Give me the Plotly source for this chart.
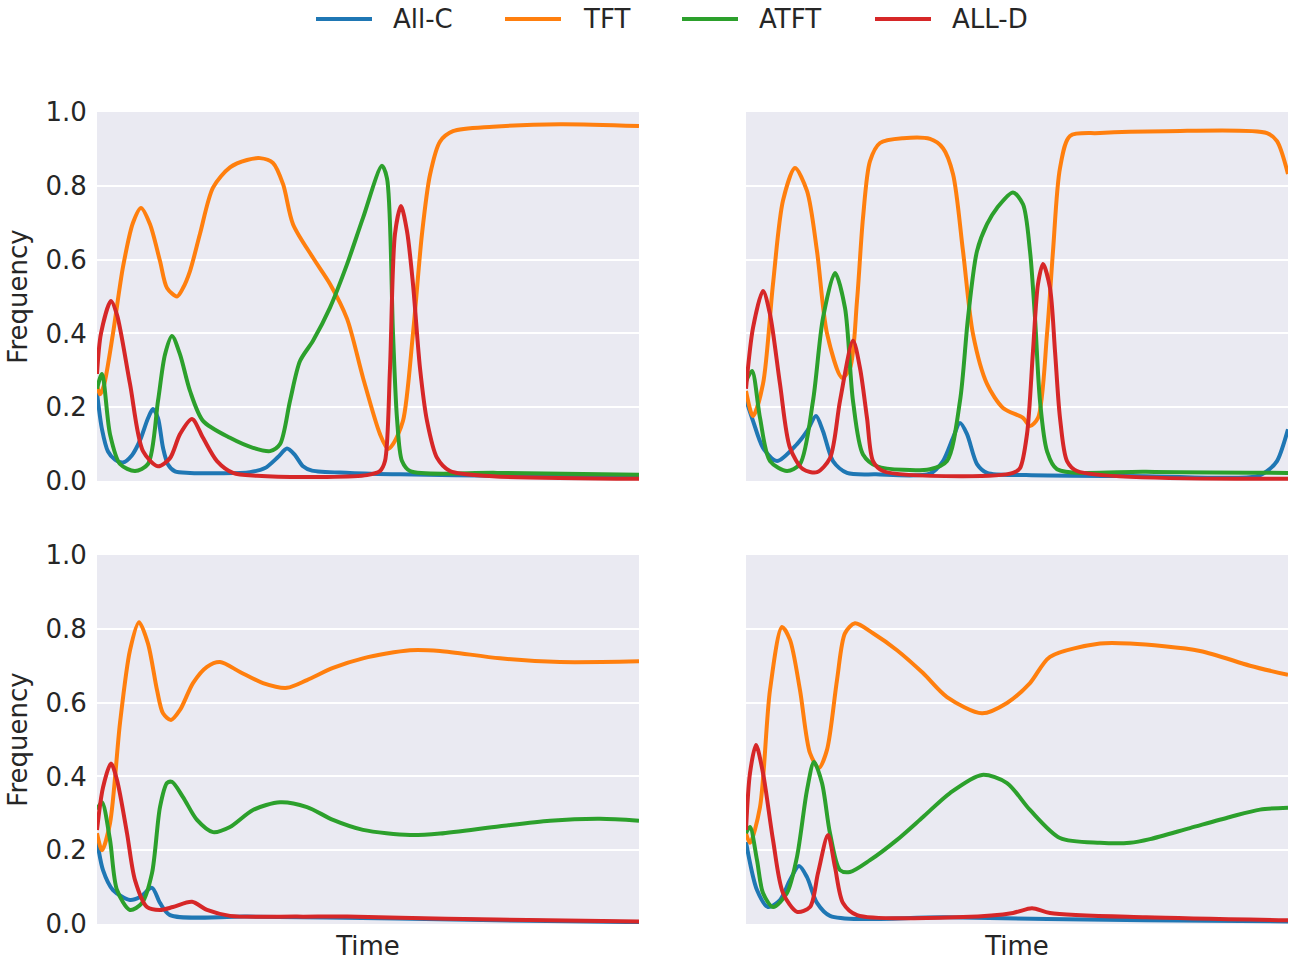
import plotly.graph_objects as go

# ---------------- data (time index, frequency) ----------------
SERIES = ["All-C", "TFT", "ATFT", "ALL-D"]
COLORS = ["#1f77b4", "#ff7f0e", "#2ca02c", "#d62728"]
Y_TICKS = [0.0, 0.2, 0.4, 0.6, 0.8, 1.0]

# Panel 1 (top-left)
P1_ALLC_T = [0, 5, 11, 18, 26, 35, 43, 51, 56, 61, 66, 71, 78, 93, 123, 153, 168, 181, 190, 198, 206, 215, 253, 303, 403, 542]
P1_ALLC_V = [0.24, 0.14, 0.08, 0.058, 0.05, 0.07, 0.11, 0.17, 0.195, 0.17, 0.09, 0.045, 0.026, 0.022, 0.021, 0.024, 0.035, 0.065, 0.088, 0.07, 0.04, 0.028, 0.022, 0.018, 0.014, 0.012]
P1_TFT_T = [0, 3, 7, 16, 26, 36, 44, 53, 63, 70, 80, 86, 93, 103, 116, 133, 150, 163, 176, 186, 196, 216, 233, 250, 266, 283, 291, 296, 306, 316, 325, 333, 343, 356, 396, 463, 542]
P1_TFT_V = [0.26, 0.235, 0.26, 0.40, 0.58, 0.70, 0.74, 0.696, 0.596, 0.523, 0.50, 0.523, 0.569, 0.67, 0.795, 0.85, 0.87, 0.875, 0.862, 0.805, 0.696, 0.605, 0.534, 0.44, 0.28, 0.127, 0.087, 0.10, 0.163, 0.40, 0.67, 0.83, 0.92, 0.948, 0.96, 0.967, 0.962]
P1_ATFT_T = [0, 5, 13, 23, 38, 51, 61, 68, 75, 83, 93, 106, 133, 156, 173, 183, 193, 203, 216, 233, 250, 266, 285, 290, 296, 300, 305, 313, 400, 542]
P1_ATFT_V = [0.25, 0.29, 0.127, 0.046, 0.027, 0.046, 0.217, 0.343, 0.393, 0.343, 0.244, 0.163, 0.117, 0.09, 0.081, 0.10, 0.217, 0.325, 0.38, 0.47, 0.587, 0.713, 0.854, 0.82, 0.40, 0.17, 0.054, 0.027, 0.022, 0.017]
P1_ALLD_T = [0, 4, 14, 20, 33, 46, 61, 73, 83, 95, 106, 120, 136, 160, 230, 270, 283, 288, 293, 298, 304, 310, 316, 323, 330, 340, 353, 396, 542]
P1_ALLD_V = [0.29, 0.40, 0.488, 0.45, 0.263, 0.081, 0.04, 0.062, 0.127, 0.168, 0.117, 0.054, 0.022, 0.014, 0.011, 0.016, 0.027, 0.054, 0.306, 0.67, 0.745, 0.677, 0.533, 0.306, 0.163, 0.063, 0.027, 0.013, 0.006]

# Panel 2 (top-right)
P2_ALLC_T = [0, 7, 17, 31, 51, 61, 70, 77, 87, 101, 130, 184, 197, 207, 214, 221, 231, 241, 280, 400, 510, 521, 531, 542]
P2_ALLC_V = [0.22, 0.163, 0.09, 0.054, 0.10, 0.135, 0.176, 0.135, 0.054, 0.022, 0.018, 0.02, 0.054, 0.117, 0.157, 0.127, 0.046, 0.022, 0.016, 0.013, 0.012, 0.027, 0.054, 0.14]
P2_TFT_T = [0, 7, 17, 27, 37, 49, 61, 71, 81, 96, 104, 111, 117, 124, 134, 157, 184, 197, 207, 217, 227, 241, 257, 277, 284, 292, 301, 307, 314, 324, 354, 421, 521, 531, 542]
P2_TFT_V = [0.244, 0.176, 0.263, 0.534, 0.76, 0.848, 0.786, 0.623, 0.40, 0.28, 0.306, 0.488, 0.713, 0.867, 0.916, 0.929, 0.927, 0.902, 0.832, 0.623, 0.398, 0.263, 0.198, 0.171, 0.149, 0.171, 0.398, 0.623, 0.848, 0.935, 0.943, 0.948, 0.943, 0.921, 0.832]
P2_ATFT_T = [0, 6, 14, 24, 41, 54, 67, 77, 89, 99, 107, 117, 131, 184, 201, 214, 222, 231, 241, 251, 267, 277, 284, 289, 294, 301, 311, 400, 542]
P2_ATFT_V = [0.27, 0.298, 0.171, 0.054, 0.027, 0.046, 0.217, 0.442, 0.564, 0.469, 0.217, 0.072, 0.04, 0.032, 0.054, 0.217, 0.442, 0.623, 0.696, 0.74, 0.782, 0.75, 0.623, 0.442, 0.217, 0.081, 0.032, 0.025, 0.022]
P2_ALLD_T = [0, 7, 17, 24, 34, 44, 57, 71, 84, 94, 107, 114, 121, 127, 137, 217, 267, 274, 281, 287, 292, 297, 304, 309, 314, 321, 331, 542]
P2_ALLD_V = [0.25, 0.415, 0.515, 0.452, 0.263, 0.09, 0.032, 0.024, 0.062, 0.217, 0.38, 0.306, 0.171, 0.054, 0.027, 0.013, 0.022, 0.035, 0.127, 0.352, 0.534, 0.588, 0.523, 0.352, 0.171, 0.054, 0.027, 0.006]

# Panel 3 (bottom-left)
P3_ALLC_T = [0, 6, 16, 33, 43, 55, 63, 73, 150, 300, 450, 542]
P3_ALLC_V = [0.228, 0.146, 0.092, 0.065, 0.073, 0.098, 0.057, 0.024, 0.02, 0.015, 0.008, 0.005]
P3_TFT_T = [0, 5, 13, 23, 33, 42, 51, 60, 66, 74, 83, 96, 110, 123, 143, 166, 190, 210, 236, 266, 313, 343, 403, 463, 542]
P3_TFT_V = [0.246, 0.20, 0.273, 0.545, 0.742, 0.818, 0.76, 0.634, 0.571, 0.553, 0.58, 0.653, 0.697, 0.71, 0.683, 0.653, 0.64, 0.661, 0.694, 0.72, 0.742, 0.74, 0.72, 0.71, 0.712]
P3_ATFT_T = [0, 5, 13, 20, 33, 45, 55, 63, 70, 75, 86, 100, 116, 133, 156, 183, 210, 236, 266, 313, 343, 403, 453, 503, 542]
P3_ATFT_V = [0.31, 0.33, 0.228, 0.092, 0.038, 0.057, 0.138, 0.317, 0.382, 0.385, 0.344, 0.282, 0.249, 0.263, 0.309, 0.33, 0.317, 0.282, 0.255, 0.241, 0.245, 0.265, 0.28, 0.285, 0.28]
P3_ALLD_T = [0, 6, 14, 20, 30, 38, 50, 63, 76, 95, 110, 133, 200, 250, 350, 450, 542]
P3_ALLD_V = [0.255, 0.37, 0.435, 0.39, 0.246, 0.119, 0.046, 0.038, 0.046, 0.06, 0.038, 0.022, 0.02, 0.02, 0.014, 0.01, 0.007]

# Panel 4 (bottom-right)
P4_ALLC_T = [0, 11, 22, 34, 44, 53, 61, 71, 84, 200, 400, 542]
P4_ALLC_V = [0.222, 0.092, 0.046, 0.065, 0.119, 0.157, 0.127, 0.057, 0.022, 0.018, 0.01, 0.007]
P4_TFT_T = [0, 4, 14, 24, 36, 44, 54, 64, 73, 81, 91, 99, 109, 127, 151, 177, 201, 236, 261, 284, 304, 354, 384, 454, 504, 542]
P4_TFT_V = [0.246, 0.22, 0.317, 0.634, 0.805, 0.77, 0.634, 0.463, 0.423, 0.472, 0.661, 0.788, 0.815, 0.788, 0.742, 0.68, 0.615, 0.571, 0.599, 0.653, 0.724, 0.76, 0.76, 0.74, 0.70, 0.675]
P4_ATFT_T = [0, 4, 11, 17, 27, 41, 51, 61, 68, 76, 84, 94, 104, 124, 151, 177, 204, 236, 261, 284, 314, 354, 384, 404, 444, 484, 514, 542]
P4_ATFT_V = [0.246, 0.263, 0.173, 0.084, 0.046, 0.084, 0.182, 0.363, 0.439, 0.382, 0.246, 0.146, 0.141, 0.173, 0.228, 0.29, 0.355, 0.404, 0.382, 0.309, 0.233, 0.22, 0.22, 0.23, 0.26, 0.29, 0.31, 0.315]
P4_ALLD_T = [0, 4, 10, 17, 27, 37, 51, 64, 72, 82, 89, 97, 111, 217, 267, 286, 304, 400, 542]
P4_ALLD_V = [0.255, 0.409, 0.485, 0.409, 0.228, 0.084, 0.033, 0.046, 0.138, 0.241, 0.154, 0.057, 0.024, 0.019, 0.03, 0.043, 0.03, 0.018, 0.01]

PANELS = [
    [(P1_ALLC_T, P1_ALLC_V), (P1_TFT_T, P1_TFT_V), (P1_ATFT_T, P1_ATFT_V), (P1_ALLD_T, P1_ALLD_V)],
    [(P2_ALLC_T, P2_ALLC_V), (P2_TFT_T, P2_TFT_V), (P2_ATFT_T, P2_ATFT_V), (P2_ALLD_T, P2_ALLD_V)],
    [(P3_ALLC_T, P3_ALLC_V), (P3_TFT_T, P3_TFT_V), (P3_ATFT_T, P3_ATFT_V), (P3_ALLD_T, P3_ALLD_V)],
    [(P4_ALLC_T, P4_ALLC_V), (P4_TFT_T, P4_TFT_V), (P4_ATFT_T, P4_ATFT_V), (P4_ALLD_T, P4_ALLD_V)],
]

# ---------------- figure ----------------
W, H = 1294, 961
ML, MR, MT, MB = 97, 6, 112, 37
PW, PH = W - ML - MR, H - MT - MB
FONT = "DejaVu Sans"
TXT = "#262626"
BG = "#EAEAF2"
FS = 26

def px_x(px):  # screen pixel -> paper x
    return (px - ML) / PW

def px_y(py):  # screen pixel -> paper y
    return (H - MB - py) / PH

x_domains = [[px_x(97), px_x(639)], [px_x(746), px_x(1288)]]
y_domains = [[px_y(481), px_y(112)], [px_y(924), px_y(555)]]

fig = go.Figure()
for p, panel in enumerate(PANELS):
    ax = "" if p == 0 else str(p + 1)
    for s, (t, v) in enumerate(panel):
        fig.add_trace(go.Scatter(
            x=t, y=v, mode="lines", name=SERIES[s],
            line=dict(color=COLORS[s], width=4, shape="spline", smoothing=0.8),
            xaxis="x" + ax, yaxis="y" + ax, showlegend=False,
        ))

# legend drawn as line swatches + text (matplotlib-style spacing)
LEG_LINE_X = [316, 505, 682, 875]
LEG_TEXT_X = [391, 581, 757, 950]
LEG_Y = 19
shapes, annotations = [], []
for s in range(len(SERIES)):
    shapes.append(dict(type="line", xref="paper", yref="paper",
                       x0=px_x(LEG_LINE_X[s]), x1=px_x(LEG_LINE_X[s] + 56),
                       y0=px_y(LEG_Y), y1=px_y(LEG_Y),
                       line=dict(color=COLORS[s], width=4)))
    annotations.append(dict(text=SERIES[s], xref="paper", yref="paper",
                            x=px_x(LEG_TEXT_X[s]), y=px_y(LEG_Y), xanchor="left", yanchor="middle",
                            showarrow=False, font=dict(family=FONT, size=FS, color=TXT)))

layout = dict(
    width=W, height=H, paper_bgcolor="white", plot_bgcolor=BG,
    margin=dict(l=ML, r=MR, t=MT, b=MB, autoexpand=False),
    font=dict(family=FONT, size=FS, color=TXT),
    showlegend=False, shapes=shapes, annotations=annotations,
)
for p in range(4):
    r, c = divmod(p, 2)
    ax = "" if p == 0 else str(p + 1)
    layout["xaxis" + ax] = dict(
        domain=x_domains[c], anchor="y" + ax, range=[0, 542],
        showticklabels=False, showgrid=False, zeroline=False, showline=False, ticks="",
        title=dict(text="Time" if r == 1 else "", standoff=12, font=dict(size=FS, color=TXT)),
    )
    layout["yaxis" + ax] = dict(
        domain=y_domains[r], anchor="x" + ax, range=[0, 1.0],
        tickvals=Y_TICKS, tickformat=".1f", showticklabels=(c == 0),
        showgrid=True, gridcolor="white", gridwidth=2, zeroline=False, showline=False,
        ticks="outside", ticklen=4, tickcolor="rgba(0,0,0,0)",
        tickfont=dict(size=FS, color=TXT),
        title=dict(text="Frequency" if c == 0 else "", standoff=10, font=dict(size=FS, color=TXT)),
    )
fig.update_layout(**layout)
# remove the browser's default page margin so the figure fills the 1294x961 window exactly
fig.write_html("out.html", config={"displayModeBar": False},
               post_script="document.body.style.margin='0px';")
